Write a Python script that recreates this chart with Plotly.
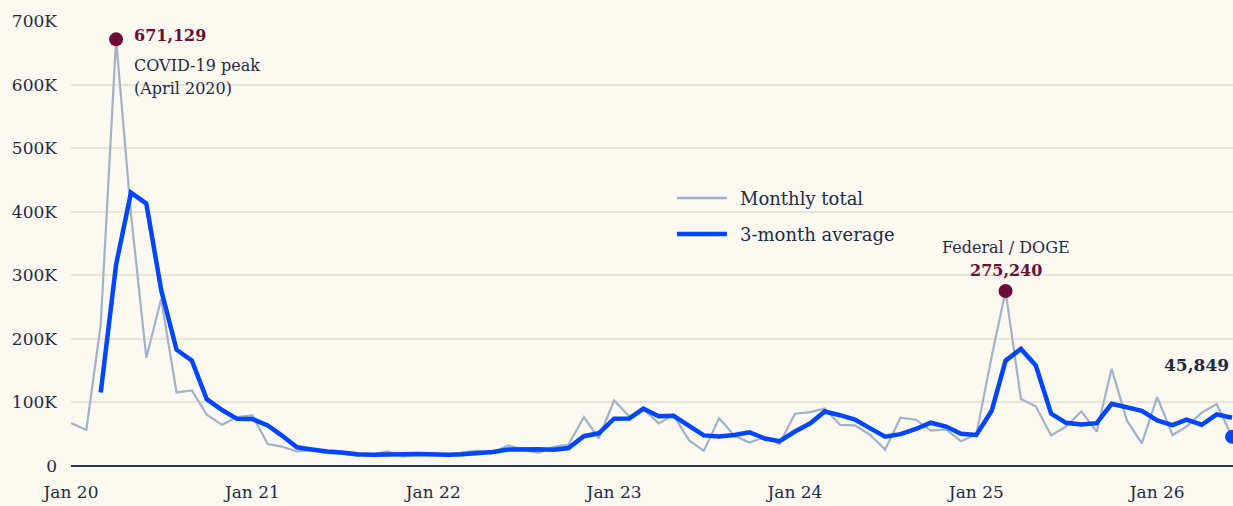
import pandas as pd
import plotly.graph_objects as go

# ---- data ----
months = pd.date_range("2020-01-01", periods=78, freq="MS")

monthly_total = [
    67735, 56660, 222288, 671129, 397016, 170219, 262649, 115762, 118804, 80666, 64797, 77030,
    79552, 34531, 30603, 22913, 24586, 20476, 18942, 15723, 17895, 22822, 14875, 19052,
    19064, 15245, 21387, 24286, 20712, 32517, 25810, 20781, 29989, 33843, 76835, 43651,
    102943, 77770, 89703, 66995, 80089, 40709, 23697, 75151, 47457, 36836, 45510, 34817,
    82307, 84638, 90309, 64789, 63816, 48786, 25885, 75891, 72821, 55597, 57727, 38792,
    49795, 172017, 275240, 105441, 93816, 47999, 62075, 85979, 54064, 153074, 71321, 35553,
    108435, 48700, 62000, 84000, 97500, 45849,
]

three_month_avg = [
    None, None, 115561, 316692, 430144, 412788, 276628, 182877, 165738, 105077, 88089, 74164,
    73793, 63704, 48229, 29349, 26034, 22658, 21335, 18380, 17520, 18813, 18531, 18916,
    17664, 17787, 18565, 20306, 22128, 25838, 26346, 26369, 25527, 28204, 46889, 51443,
    74476, 74788, 90139, 78156, 78929, 62598, 48165, 46519, 48768, 53148, 43268, 39054,
    54211, 67254, 85751, 79912, 72971, 59130, 46162, 50187, 58199, 68103, 62048, 50705,
    48771, 86868, 165684, 184233, 158166, 82419, 67963, 65351, 67373, 97706, 92820, 86649,
    71770, 64229, 73045, 64900, 81167, 75783,
]

y_tickvals = [0, 100000, 200000, 300000, 400000, 500000, 600000, 700000]
y_ticktext = ["0", "100K", "200K", "300K", "400K", "500K", "600K", "700K"]
x_tickvals = ["2020-01-01", "2021-01-01", "2022-01-01", "2023-01-01",
              "2024-01-01", "2025-01-01", "2026-01-01"]
x_ticktext = ["Jan 20", "Jan 21", "Jan 22", "Jan 23", "Jan 24", "Jan 25", "Jan 26"]

covid_idx = 3     # April 2020
doge_idx = 62     # March 2025
last_idx = len(monthly_total) - 1

# ---- styles ----
BG = "#fcf9f0"
NAVY = "#1f2b45"
MAROON = "#6b0d35"
BLUE = "#0045ff"
GRAY = "#a2b2c8"
GRID = "#e9e4d6"
FONT = "DejaVu Serif"

fig = go.Figure()

fig.add_trace(go.Scatter(
    x=months, y=monthly_total, mode="lines", name="Monthly total",
    line=dict(color=GRAY, width=2.2), showlegend=False, hoverinfo="skip",
))
fig.add_trace(go.Scatter(
    x=months, y=three_month_avg, mode="lines", name="3-month average",
    line=dict(color=BLUE, width=4.5), showlegend=False, hoverinfo="skip",
))
fig.add_trace(go.Scatter(
    x=[months[covid_idx], months[doge_idx]],
    y=[monthly_total[covid_idx], monthly_total[doge_idx]],
    mode="markers", marker=dict(color=MAROON, size=14), showlegend=False,
    hoverinfo="skip",
))
fig.add_trace(go.Scatter(
    x=[months[last_idx]], y=[monthly_total[last_idx]],
    mode="markers", marker=dict(color=BLUE, size=14), showlegend=False,
    hoverinfo="skip",
))

# annotations
fig.add_annotation(x=months[covid_idx], y=monthly_total[covid_idx], text="<b>671,129</b>",
                   showarrow=False, xanchor="left", yanchor="middle", xshift=16, yshift=4,
                   font=dict(family=FONT, size=16, color=MAROON))
fig.add_annotation(x=months[covid_idx], y=monthly_total[covid_idx], text="COVID-19 peak",
                   showarrow=False, xanchor="left", yanchor="middle", xshift=16, yshift=-26,
                   font=dict(family=FONT, size=16, color=NAVY))
fig.add_annotation(x=months[covid_idx], y=monthly_total[covid_idx], text="(April 2020)",
                   showarrow=False, xanchor="left", yanchor="middle", xshift=16, yshift=-49,
                   font=dict(family=FONT, size=16, color=NAVY))
fig.add_annotation(x=months[doge_idx], y=monthly_total[doge_idx], text="Federal / DOGE",
                   showarrow=False, xanchor="center", yanchor="middle", yshift=44,
                   font=dict(family=FONT, size=16, color=NAVY))
fig.add_annotation(x=months[doge_idx], y=monthly_total[doge_idx], text="<b>275,240</b>",
                   showarrow=False, xanchor="center", yanchor="middle", yshift=21,
                   font=dict(family=FONT, size=16, color=MAROON))
fig.add_annotation(x=months[last_idx], y=monthly_total[last_idx], text="<b>45,849</b>",
                   showarrow=False, xanchor="right", yanchor="middle", xshift=-1, yshift=72,
                   font=dict(family=FONT, size=17, color=NAVY))

# manual legend
fig.add_shape(type="line", xref="paper", yref="paper", x0=0.5215, x1=0.5645,
              y0=0.6022, y1=0.6022, line=dict(color=GRAY, width=2.5))
fig.add_shape(type="line", xref="paper", yref="paper", x0=0.5215, x1=0.5645,
              y0=0.5213, y1=0.5213, line=dict(color=BLUE, width=4.5))
fig.add_annotation(xref="paper", yref="paper", x=0.574, y=0.6022, text="Monthly total",
                   showarrow=False, xanchor="left", yanchor="middle",
                   font=dict(family=FONT, size=18, color=NAVY))
fig.add_annotation(xref="paper", yref="paper", x=0.574, y=0.5213, text="3-month average",
                   showarrow=False, xanchor="left", yanchor="middle",
                   font=dict(family=FONT, size=18, color=NAVY))

fig.update_layout(
    width=1233, height=506,
    margin=dict(l=71, r=0, t=21, b=40),
    paper_bgcolor=BG, plot_bgcolor=BG,
    font=dict(family=FONT, size=17, color=NAVY),
    showlegend=False,
    hovermode=False,
)
fig.update_xaxes(
    range=["2020-01-01", "2026-06-03"],
    tickvals=x_tickvals, ticktext=x_ticktext,
    showgrid=False, zeroline=False, showline=False, ticks="",
    ticklabelstandoff=14,
    tickfont=dict(family=FONT, size=17, color=NAVY),
)
fig.update_yaxes(
    range=[0, 700000],
    tickvals=y_tickvals, ticktext=y_ticktext,
    showgrid=True, gridcolor=GRID, gridwidth=1.5,
    zeroline=True, zerolinecolor="#2a3a57", zerolinewidth=2,
    ticks="", ticklabelstandoff=13,
    tickfont=dict(family=FONT, size=17, color=NAVY),
)

fig.write_html(
    "out.html",
    config={"displayModeBar": False},
    post_script="document.body.style.margin='0';document.body.style.overflow='hidden';"
                "document.body.style.background='" + BG + "';",
)
